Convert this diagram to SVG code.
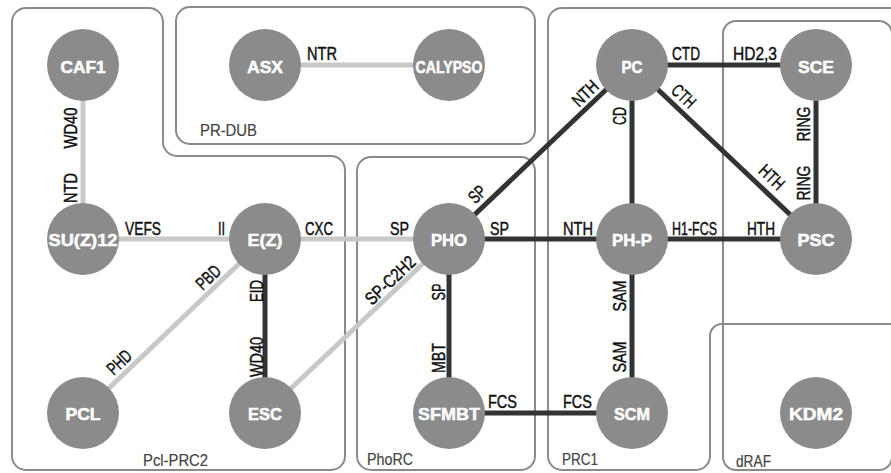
<svg xmlns="http://www.w3.org/2000/svg" width="891" height="473" viewBox="0 0 891 473">
<style>
.box{fill:none;stroke:#8a8a8a;stroke-width:2}
.gl{font-family:"Liberation Sans",Arial,sans-serif;font-size:17px;fill:#444;stroke:#444;stroke-width:0.2}
.lt{stroke:#c8c8c8;stroke-width:5;fill:none}
.dk{stroke:#333;stroke-width:5;fill:none}
.el{font-family:"Liberation Sans",Arial,sans-serif;font-size:18px;fill:#111;stroke:#111;stroke-width:0.45}
.rl{font-family:"Liberation Sans",Arial,sans-serif;font-size:18px;fill:#111;stroke:#111;stroke-width:0.45;text-anchor:middle}
.nd circle{fill:#8b8b8b}
.nd text{font-family:"Liberation Sans",Arial,sans-serif;font-size:17px;font-weight:bold;fill:#fff;stroke:#fff;stroke-width:0.5;text-anchor:middle}
</style>
<rect width="891" height="473" fill="#fff"/>
<g id="groups">
<g id="g-pclprc2"><path class="box" d="M26 8H149A14 14 0 0 1 163 22V142A14 14 0 0 0 177 156H331A14 14 0 0 1 345 170V456A14 14 0 0 1 331 470H26A14 14 0 0 1 12 456V22A14 14 0 0 1 26 8Z"/><text class="gl" x="143" y="466" textLength="65" lengthAdjust="spacingAndGlyphs">Pcl-PRC2</text></g>
<g id="g-prdub"><rect class="box" x="176" y="7" width="359" height="137" rx="14"/><text class="gl" x="200" y="136" textLength="57" lengthAdjust="spacingAndGlyphs">PR-DUB</text></g>
<g id="g-phorc"><rect class="box" x="357" y="157" width="178" height="313" rx="14"/><text class="gl" x="367" y="465" textLength="46" lengthAdjust="spacingAndGlyphs">PhoRC</text></g>
<g id="g-prc1"><path class="box" d="M562 8H905V324H722A12 12 0 0 0 710 336V456A14 14 0 0 1 696 470H562A14 14 0 0 1 548 456V22A14 14 0 0 1 562 8Z"/><text class="gl" x="562" y="465" textLength="36" lengthAdjust="spacingAndGlyphs">PRC1</text></g>
<g id="g-draf"><rect class="box" x="723" y="21" width="169" height="449" rx="13"/><text class="gl" x="736" y="467" textLength="35" lengthAdjust="spacingAndGlyphs">dRAF</text></g>
</g>
<g id="connectors">
<line class="lt" x1="83" y1="65" x2="83" y2="239"/>
<line class="lt" x1="265" y1="65" x2="449" y2="65"/>
<line class="lt" x1="83" y1="239" x2="265" y2="239"/>
<line class="lt" x1="265" y1="239" x2="449" y2="239"/>
<line class="lt" x1="265" y1="239" x2="83" y2="413"/>
<line class="lt" x1="265" y1="413" x2="449" y2="239"/>
<line class="dk" x1="265" y1="239" x2="265" y2="413"/>
<line class="dk" x1="449" y1="239" x2="632" y2="65"/>
<line class="dk" x1="449" y1="239" x2="632" y2="239"/>
<line class="dk" x1="449" y1="239" x2="449" y2="413"/>
<line class="dk" x1="449" y1="413" x2="632" y2="413"/>
<line class="dk" x1="632" y1="65" x2="632" y2="239"/>
<line class="dk" x1="632" y1="65" x2="816" y2="65"/>
<line class="dk" x1="632" y1="65" x2="816" y2="239"/>
<line class="dk" x1="632" y1="239" x2="816" y2="239"/>
<line class="dk" x1="632" y1="239" x2="632" y2="413"/>
<line class="dk" x1="816" y1="65" x2="816" y2="239"/>
<text class="el" x="307" y="60" textLength="30" lengthAdjust="spacingAndGlyphs">NTR</text>
<text class="el" x="125" y="235" textLength="36" lengthAdjust="spacingAndGlyphs">VEFS</text>
<text class="el" x="218" y="235" textLength="7" lengthAdjust="spacingAndGlyphs">II</text>
<text class="el" x="305" y="235" textLength="28" lengthAdjust="spacingAndGlyphs">CXC</text>
<text class="el" x="390" y="235" textLength="19" lengthAdjust="spacingAndGlyphs">SP</text>
<text class="el" x="490" y="235" textLength="19" lengthAdjust="spacingAndGlyphs">SP</text>
<text class="el" x="563" y="235" textLength="30" lengthAdjust="spacingAndGlyphs">NTH</text>
<text class="el" x="672" y="60" textLength="28" lengthAdjust="spacingAndGlyphs">CTD</text>
<text class="el" x="733" y="60" textLength="44" lengthAdjust="spacingAndGlyphs">HD2,3</text>
<text class="el" x="672" y="235" textLength="45" lengthAdjust="spacingAndGlyphs">H1-FCS</text>
<text class="el" x="747" y="235" textLength="28" lengthAdjust="spacingAndGlyphs">HTH</text>
<text class="el" x="488" y="408" textLength="29" lengthAdjust="spacingAndGlyphs">FCS</text>
<text class="el" x="563" y="408" textLength="29" lengthAdjust="spacingAndGlyphs">FCS</text>
<text class="rl" transform="translate(70 128) rotate(-90)" y="6.5" textLength="41" lengthAdjust="spacingAndGlyphs">WD40</text>
<text class="rl" transform="translate(70 188) rotate(-90)" y="6.5" textLength="30" lengthAdjust="spacingAndGlyphs">NTD</text>
<text class="rl" transform="translate(256 291) rotate(-90)" y="6.5" textLength="22" lengthAdjust="spacingAndGlyphs">EID</text>
<text class="rl" transform="translate(256 357) rotate(-90)" y="6.5" textLength="40" lengthAdjust="spacingAndGlyphs">WD40</text>
<text class="rl" transform="translate(438 292) rotate(-90)" y="6.5" textLength="17" lengthAdjust="spacingAndGlyphs">SP</text>
<text class="rl" transform="translate(438 358) rotate(-90)" y="6.5" textLength="30" lengthAdjust="spacingAndGlyphs">MBT</text>
<text class="rl" transform="translate(619 116) rotate(-90)" y="6.5" textLength="18" lengthAdjust="spacingAndGlyphs">CD</text>
<text class="rl" transform="translate(619 296) rotate(-90)" y="6.5" textLength="31" lengthAdjust="spacingAndGlyphs">SAM</text>
<text class="rl" transform="translate(619 357) rotate(-90)" y="6.5" textLength="31" lengthAdjust="spacingAndGlyphs">SAM</text>
<text class="rl" transform="translate(803 124) rotate(-90)" y="6.5" textLength="35" lengthAdjust="spacingAndGlyphs">RING</text>
<text class="rl" transform="translate(803 183) rotate(-90)" y="6.5" textLength="35" lengthAdjust="spacingAndGlyphs">RING</text>
<text class="rl" transform="translate(585 93) rotate(-43.6)" y="6.5" textLength="29" lengthAdjust="spacingAndGlyphs">NTH</text>
<text class="rl" transform="translate(477 194) rotate(-43.6)" y="6.5" textLength="17" lengthAdjust="spacingAndGlyphs">SP</text>
<text class="rl" transform="translate(208 277) rotate(-43.6)" y="6.5" textLength="27" lengthAdjust="spacingAndGlyphs">PBD</text>
<text class="rl" transform="translate(119 362) rotate(-43.6)" y="6.5" textLength="27" lengthAdjust="spacingAndGlyphs">PHD</text>
<text class="rl" transform="translate(390 280) rotate(-43.6)" y="6.5" textLength="62" lengthAdjust="spacingAndGlyphs">SP-C2H2</text>
<text class="rl" transform="translate(684 96) rotate(43.6)" y="6.5" textLength="26" lengthAdjust="spacingAndGlyphs">CTH</text>
<text class="rl" transform="translate(772 177) rotate(43.6)" y="6.5" textLength="28" lengthAdjust="spacingAndGlyphs">HTH</text>
</g>
<g id="caf1" class="nd"><circle cx="83" cy="65" r="36"/><text x="83" y="73" textLength="45" lengthAdjust="spacingAndGlyphs">CAF1</text></g>
<g id="asx" class="nd"><circle cx="265" cy="65" r="36"/><text x="265" y="73" textLength="36" lengthAdjust="spacingAndGlyphs">ASX</text></g>
<g id="calypso" class="nd"><circle cx="449" cy="65" r="36"/><text x="449" y="73" textLength="67" lengthAdjust="spacingAndGlyphs">CALYPSO</text></g>
<g id="pc" class="nd"><circle cx="632" cy="65" r="36"/><text x="632" y="73" textLength="21" lengthAdjust="spacingAndGlyphs">PC</text></g>
<g id="sce" class="nd"><circle cx="816" cy="65" r="36"/><text x="816" y="73" textLength="36" lengthAdjust="spacingAndGlyphs">SCE</text></g>
<g id="suz12" class="nd"><circle cx="83" cy="239" r="36"/><text x="83" y="246" textLength="69" lengthAdjust="spacingAndGlyphs">SU(Z)12</text></g>
<g id="ez" class="nd"><circle cx="265" cy="239" r="36"/><text x="265" y="246" textLength="35" lengthAdjust="spacingAndGlyphs">E(Z)</text></g>
<g id="pho" class="nd"><circle cx="449" cy="239" r="36"/><text x="449" y="246" textLength="36" lengthAdjust="spacingAndGlyphs">PHO</text></g>
<g id="php" class="nd"><circle cx="632" cy="239" r="36"/><text x="632" y="246" textLength="40" lengthAdjust="spacingAndGlyphs">PH-P</text></g>
<g id="psc" class="nd"><circle cx="816" cy="239" r="36"/><text x="816" y="246" textLength="37" lengthAdjust="spacingAndGlyphs">PSC</text></g>
<g id="pcl" class="nd"><circle cx="83" cy="413" r="36"/><text x="83" y="420" textLength="35" lengthAdjust="spacingAndGlyphs">PCL</text></g>
<g id="esc" class="nd"><circle cx="265" cy="413" r="36"/><text x="265" y="420" textLength="34" lengthAdjust="spacingAndGlyphs">ESC</text></g>
<g id="sfmbt" class="nd"><circle cx="449" cy="413" r="36"/><text x="449" y="420" textLength="62" lengthAdjust="spacingAndGlyphs">SFMBT</text></g>
<g id="scm" class="nd"><circle cx="632" cy="413" r="36"/><text x="632" y="420" textLength="36" lengthAdjust="spacingAndGlyphs">SCM</text></g>
<g id="kdm2" class="nd"><circle cx="816" cy="413" r="36"/><text x="816" y="420" textLength="54" lengthAdjust="spacingAndGlyphs">KDM2</text></g>
</svg>
